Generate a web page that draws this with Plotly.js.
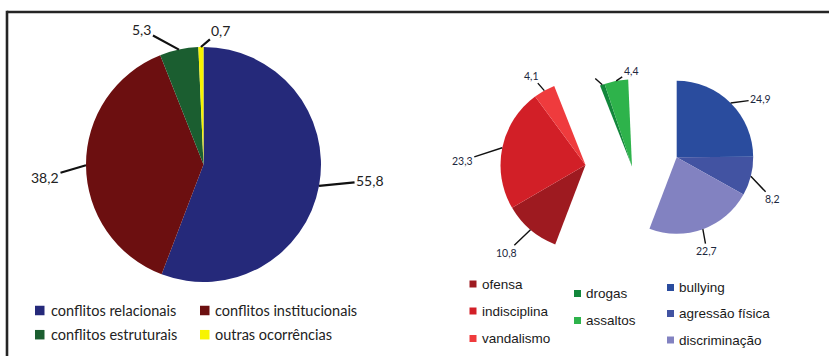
<!DOCTYPE html>
<html>
<head>
<meta charset="utf-8">
<script src="https://cdn.plot.ly/plotly-3.0.1.min.js"></script>
<style>html,body{margin:0;padding:0;background:#fff;}#chart{width:829px;height:356px;}</style>
</head>
<body>
<div id="chart"></div>
<script>
// ---- data ----
const mainLabels = ['conflitos relacionais', 'conflitos institucionais', 'conflitos estruturais', 'outras ocorrências'];
const mainValues = [55.8, 38.2, 5.3, 0.7];
const subLabels = ['bullying', 'agressão física', 'discriminação', 'ofensa', 'indisciplina', 'vandalismo', 'drogas', 'assaltos'];
const subValues = [24.9, 8.2, 22.7, 10.8, 23.3, 4.1, 0.9, 4.4];
const subGroup = [0, 0, 0, 1, 1, 1, 2, 2];
const subShowLabel = [true, true, true, true, true, true, false, true];

// ---- styles / layout geometry ----
const W = 829, H = 356;
const mainColors = ['#25297a', '#6c0f10', '#1b5e30', '#f7f400'];
const subColors = ['#2a4c9e', '#4253a2', '#8282c1', '#9e1a20', '#d21f27', '#ef3b3d', '#12873b', '#2eb34b'];
const CLEAR = 'rgba(0,0,0,0)';
const mainPie = {cx: 203.5, cy: 164.5, r: 117.5};
const groupPies = [
  {cx: 676.7, cy: 157.3, r: 76.5},  // relacionais group
  {cx: 585.5, cy: 165, r: 85},      // institucionais group
  {cx: 632, cy: 166.5, r: 87}       // estruturais group
];
const mainLabelOffsets = [[51, -5], [-41, 12], [-37, -20], [20, -17]];
const subLabelOffsets = [[30, -4], [22, 23], [4, 22], [-24, 23], [-40, 13], [-13, -15], [-10, -9], [15, -10]];

function dom(p) {
  return {x: [(p.cx - p.r) / W, (p.cx + p.r) / W], y: [1 - (p.cy + p.r) / H, 1 - (p.cy - p.r) / H]};
}
function fmt(v) { return v.toFixed(1).replace('.', ','); }
function midAngles(vals) {
  const tot = vals.reduce((a, b) => a + b, 0);
  let c = 0;
  return vals.map(v => { const m = (c + v / 2) / tot * 2 * Math.PI; c += v; return m; });
}
function edgePoint(p, th) {
  return [(p.cx + p.r * Math.sin(th)) / W, 1 - (p.cy - p.r * Math.cos(th)) / H];
}

const traces = [];
traces.push({
  type: 'pie', values: mainValues, labels: mainLabels, sort: false, direction: 'clockwise', rotation: 0,
  marker: {colors: mainColors, line: {width: 0}}, textinfo: 'none', hoverinfo: 'label+value',
  showlegend: false, domain: dom(mainPie)
});
const rightValues = subValues.concat([mainValues[3]]);
const rightLabels = subLabels.concat([mainLabels[3]]);
for (let g = 0; g < 3; g++) {
  const cols = subColors.map((c, i) => subGroup[i] === g ? c : CLEAR).concat([CLEAR]);
  traces.push({
    type: 'pie', values: rightValues, labels: rightLabels, sort: false, direction: 'clockwise', rotation: 0,
    marker: {colors: cols, line: {width: 0}}, textinfo: 'none', hoverinfo: 'skip',
    showlegend: false, domain: dom(groupPies[g])
  });
}

const annotations = [];
const mA = midAngles(mainValues);
mainValues.forEach((v, i) => {
  const [x, y] = edgePoint(mainPie, mA[i]);
  annotations.push({
    xref: 'paper', yref: 'paper', x: x, y: y, ax: mainLabelOffsets[i][0], ay: mainLabelOffsets[i][1],
    text: fmt(v), showarrow: true, arrowhead: 0, arrowwidth: 2.2, arrowcolor: '#111', standoff: 0,
    font: {family: 'Lato, sans-serif', size: 14, color: '#222'}
  });
});
const sA = midAngles(rightValues);
subValues.forEach((v, i) => {
  const [x, y] = edgePoint(groupPies[subGroup[i]], sA[i]);
  annotations.push({
    xref: 'paper', yref: 'paper', x: x, y: y, ax: subLabelOffsets[i][0], ay: subLabelOffsets[i][1],
    text: subShowLabel[i] ? fmt(v) : ' ', showarrow: true, arrowhead: 0, arrowwidth: 1.4, arrowcolor: '#111', standoff: 0,
    font: {family: 'Lato, sans-serif', size: 10.5, color: '#1d2840'}
  });
});

// legends
const shapes = [];
shapes.push({type: 'line', xref: 'paper', yref: 'paper', x0: 7 / W, x1: 1, y0: 1 - 12 / H, y1: 1 - 12 / H, line: {color: '#252525', width: 2.6}});
shapes.push({type: 'line', xref: 'paper', yref: 'paper', x0: 7 / W, x1: 7 / W, y0: 1 - 10.8 / H, y1: 0, line: {color: '#252525', width: 2.6}});

function legendItem(label, color, sqX, sqSize, textX, cy, font) {
  shapes.push({type: 'rect', xref: 'paper', yref: 'paper', x0: sqX / W, x1: (sqX + sqSize) / W,
    y0: 1 - (cy + sqSize / 2) / H, y1: 1 - (cy - sqSize / 2) / H, fillcolor: color, line: {width: 0}});
  annotations.push({xref: 'paper', yref: 'paper', x: textX / W, y: 1 - cy / H, xanchor: 'left', yanchor: 'middle',
    text: label, showarrow: false, font: font});
}
const mainLegendPos = [[35, 48.5, 310.5], [200, 212.5, 310.5], [35, 48.5, 334.7], [200, 212.5, 334.7]];
const mainFont = {family: 'Lato, sans-serif', size: 14.5, color: '#222'};
mainLabels.forEach((l, i) => legendItem(l, mainColors[i], mainLegendPos[i][0], 9.5, mainLegendPos[i][1], mainLegendPos[i][2], mainFont));

const colX = [[469.5, 480], [574, 584], [667, 677]];
const colY = [[284, 311, 338.5], [293.5, 320.5], [287.5, 313.5, 340]];
const colOrder = [[3, 4, 5], [6, 7], [0, 1, 2]];
const subFont = {family: 'Liberation Sans, Arial, sans-serif', size: 13.5, color: '#1a1a1a'};
colOrder.forEach((col, c) => col.forEach((idx, k) =>
  legendItem(subLabels[idx], subColors[idx], colX[c][0], 7, colX[c][1], colY[c][k], subFont)));

Plotly.newPlot('chart', traces, {
  width: W, height: H, margin: {l: 0, r: 0, t: 0, b: 0},
  paper_bgcolor: '#fff', plot_bgcolor: '#fff', showlegend: false,
  annotations: annotations, shapes: shapes
}, {staticPlot: true});
</script>
</body>
</html>
